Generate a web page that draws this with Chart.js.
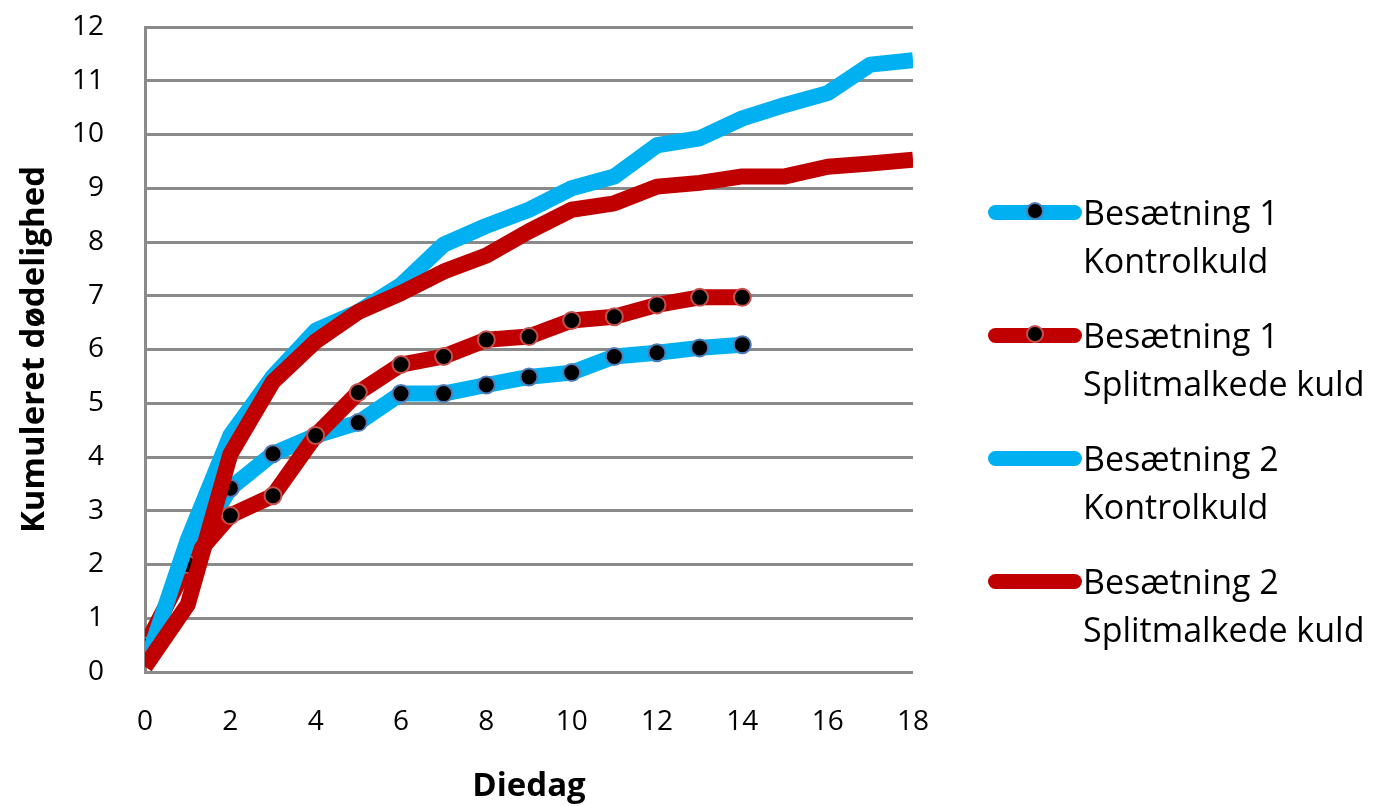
<!DOCTYPE html>
<html>
<head>
<meta charset="utf-8">
<script src="https://cdn.jsdelivr.net/npm/chart.js@4.4.1/dist/chart.umd.min.js"></script>
<style>
    body { margin: 0; background: #fff; }
    #wrap { position: relative; width: 1381px; height: 806px; }
    #chart { position: absolute; left: 0; top: 0; }
    .item { position: absolute; left: 988px; }
    .sw { position: absolute; left: 0; width: 94px; height: 15px; border-radius: 8px; }
    .dot { position: absolute; left: 38px; top: -3px; width: 18px; height: 18px; border-radius: 50%; background: #000; box-sizing: border-box; border: 2px solid; }
    .txt { position: absolute; left: 95px; top: 0; font-family: 'Open Sans', sans-serif; font-size: 34px; line-height: 48px; color: #000; white-space: nowrap; }
</style>
</head>
<body>
<div id="wrap">
    <canvas id="chart" width="1381" height="806"></canvas>
</div>
<script>
// days on the x axis
const daysLong = [0, 1, 2, 3, 4, 5, 6, 7, 8, 9, 10, 11, 12, 13, 14, 15, 16, 17, 18];
const daysShort = [0, 1, 2, 3, 4, 5, 6, 7, 8, 9, 10, 11, 12, 13, 14];

// Besætning 1 (with markers)
const b1Kontrol = [0.33, 2.15, 3.42, 4.06, 4.4, 4.64, 5.18, 5.18, 5.34, 5.49, 5.57, 5.87, 5.94, 6.03, 6.09];
const b1Split = [0.48, 2.0, 2.91, 3.28, 4.4, 5.2, 5.72, 5.87, 6.18, 6.24, 6.54, 6.61, 6.83, 6.97, 6.97];

// Besætning 2 (no markers)
const b2Kontrol = [0.1, 2.45, 4.4, 5.5, 6.35, 6.7, 7.2, 7.95, 8.3, 8.6, 9.0, 9.22, 9.8, 9.93, 10.3, 10.55, 10.77, 11.3, 11.38];
const b2Split = [0.1, 1.25, 4.05, 5.4, 6.15, 6.7, 7.05, 7.45, 7.75, 8.2, 8.6, 8.72, 9.03, 9.1, 9.22, 9.22, 9.4, 9.46, 9.53];

const seriesNames = [
    ['Besætning 1', 'Kontrolkuld'],
    ['Besætning 1', 'Splitmalkede kuld'],
    ['Besætning 2', 'Kontrolkuld'],
    ['Besætning 2', 'Splitmalkede kuld']
];

const BLUE = '#00B0F0';
const RED = '#C00000';
const GRID = '#8a8a8a';

const toPoints = (xs, ys) => ys.map((y, i) => ({ x: xs[i], y: y }));

const lineBase = {
    borderWidth: 16,
    tension: 0,
    fill: false,
    borderJoinStyle: 'round',
    borderCapStyle: 'butt'
};

const ctx = document.getElementById('chart').getContext('2d');
const chart = new Chart(ctx, {
    type: 'line',
    data: {
        datasets: [
            Object.assign({}, lineBase, {
                label: seriesNames[0].join(' '),
                data: toPoints(daysShort, b1Kontrol),
                borderColor: BLUE,
                pointRadius: 8.5,
                pointBorderWidth: 2,
                pointBackgroundColor: '#000',
                pointBorderColor: '#4F7DBA',
                order: 3
            }),
            Object.assign({}, lineBase, {
                label: seriesNames[1].join(' '),
                data: toPoints(daysShort, b1Split),
                borderColor: RED,
                pointRadius: 8.5,
                pointBorderWidth: 2,
                pointBackgroundColor: '#000',
                pointBorderColor: '#C8504D',
                order: 2
            }),
            Object.assign({}, lineBase, {
                label: seriesNames[2].join(' '),
                data: toPoints(daysLong, b2Kontrol),
                borderColor: BLUE,
                pointRadius: 0,
                order: 1
            }),
            Object.assign({}, lineBase, {
                label: seriesNames[3].join(' '),
                data: toPoints(daysLong, b2Split),
                borderColor: RED,
                pointRadius: 0,
                order: 0
            })
        ]
    },
    options: {
        responsive: false,
        animation: false,
        layout: {
            padding: { left: 0, top: 0, right: 468, bottom: 0 }
        },
        plugins: {
            legend: { display: false },
            tooltip: { enabled: false }
        },
        scales: {
            x: {
                type: 'linear',
                min: 0,
                max: 18,
                afterFit: (scale) => {
                    scale.height = 134;
                    scale.paddingTop = 0;
                },
                grid: { display: false, drawTicks: false },
                border: { display: false },
                ticks: {
                    stepSize: 2,
                    padding: 33,
                    color: '#000',
                    font: { family: 'Open Sans', size: 28 }
                },
                title: {
                    display: true,
                    text: 'Diedag',
                    color: '#000',
                    padding: { top: 0, bottom: 0 },
                    font: { family: 'Open Sans', size: 33, weight: 'bold' }
                }
            },
            y: {
                min: 0,
                max: 12,
                afterFit: (scale) => {
                    scale.width = 145;
                    scale.paddingTop = 27;
                    scale.paddingBottom = 0;
                },
                grid: { color: GRID, lineWidth: 3, drawTicks: false },
                border: { display: true, color: GRID, width: 3 },
                ticks: {
                    stepSize: 1,
                    padding: 41,
                    color: '#000',
                    font: { family: 'Open Sans', size: 28 }
                },
                title: {
                    display: true,
                    text: 'Kumuleret dødelighed',
                    color: '#000',
                    padding: { top: 15, bottom: 0 },
                    font: { family: 'Open Sans', size: 33, weight: 'bold' }
                }
            }
        }
    }
});

// legend on the right, two lines per entry
const legendStyle = [
    { color: BLUE, dot: '#4F7DBA' },
    { color: RED, dot: '#C8504D' },
    { color: BLUE, dot: null },
    { color: RED, dot: null }
];
const wrap = document.getElementById('wrap');
seriesNames.forEach((name, i) => {
    const item = document.createElement('div');
    item.className = 'item';
    item.style.top = (188 + i * 123) + 'px';
    const sw = document.createElement('div');
    sw.className = 'sw';
    sw.style.top = '17px';
    sw.style.background = legendStyle[i].color;
    if (legendStyle[i].dot) {
        const dot = document.createElement('div');
        dot.className = 'dot';
        dot.style.borderColor = legendStyle[i].dot;
        sw.appendChild(dot);
    }
    const txt = document.createElement('div');
    txt.className = 'txt';
    txt.innerHTML = name[0] + '<br>' + name[1];
    item.appendChild(sw);
    item.appendChild(txt);
    wrap.appendChild(item);
});
</script>
</body>
</html>
